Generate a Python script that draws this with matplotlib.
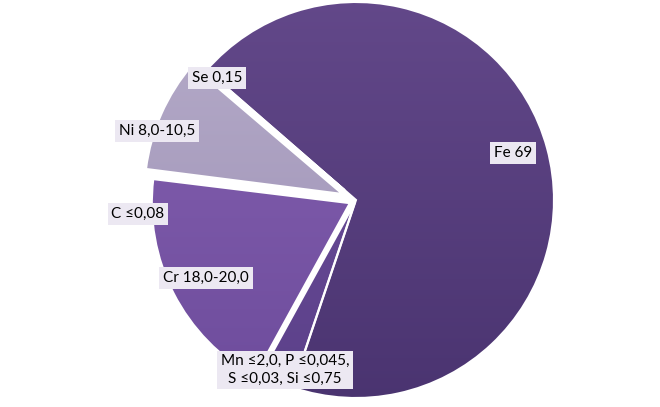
import matplotlib
matplotlib.use("Agg")
import matplotlib.pyplot as plt
import numpy as np
from matplotlib.colors import LinearSegmentedColormap

# chemical composition (wt %), counterclockwise from the upper left
labels = ["Se 0,15", "Ni 8,0-10,5", "C \u22640,08", "Cr 18,0-20,0",
          "Mn \u22642,0, P \u22640,045,\nS \u22640,03, Si \u22640,75", "Fe 69"]
values = [0.15, 9.25, 0.08, 19.0, 2.825, 69.0]

# gradient colours per slice (top, bottom)
colors = [("#bdb4d0", "#aca1c2"),
          ("#b8aecb", "#998db2"),
          ("#8a66b5", "#7552a3"),
          ("#8964b4", "#6b4a9a"),
          ("#6f519d", "#5a3f88"),
          ("#654a8c", "#48326e")]
explode = [0.075, 0.075, 0.05, 0.035, 0.015, 0.0]

# label positions in pixels of the 660x407 picture
label_px = [(217, 78), (157, 131), (138, 214), (206, 278), (285, 370), (513, 153)]

W, H = 660, 407
CX, CY, R = 356, 200, 198

fig = plt.figure(figsize=(W / 100, H / 100), dpi=100)
ax = fig.add_axes([0, 0, 1, 1])

wedges, _ = ax.pie(values, explode=explode, startangle=139, counterclock=True,
                   radius=1.0, wedgeprops=dict(edgecolor="white", linewidth=1.5))

# fill each wedge with a vertical gradient clipped to its shape
grad = np.linspace(0, 1, 256).reshape(-1, 1)
for w, (top, bottom) in zip(wedges, colors):
    w.set_facecolor("none")
    cmap = LinearSegmentedColormap.from_list("g", [top, bottom])
    im = ax.imshow(grad, cmap=cmap, aspect="auto", extent=(-1.2, 1.2, -1.2, 1.2),
                   zorder=0.5, origin="upper")
    im.set_clip_path(w)
    w.set_zorder(1)

for lab, (px, py) in zip(labels, label_px):
    ax.text((px - CX) / R, (CY - py) / R, lab, ha="center", va="center",
            fontsize=11, family=["Lato", "DejaVu Sans"], color="black",
            linespacing=1.3, zorder=3,
            bbox=dict(boxstyle="square,pad=0.25", facecolor="#ece8f2", edgecolor="none"))

# put the pie where it sits in the picture
ax.set_aspect("auto")
ax.set_xlim(-CX / R, (W - CX) / R)
ax.set_ylim(-(H - CY) / R, CY / R)
ax.axis("off")

fig.savefig("out.png", dpi=100)
